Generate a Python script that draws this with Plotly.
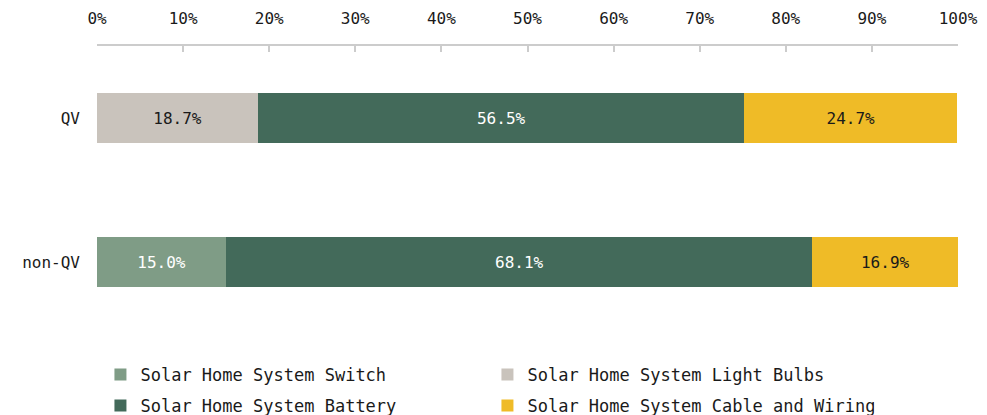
import plotly.graph_objects as go

groups = ["QV", "non-QV"]
series_names = [
    "Solar Home System Switch",
    "Solar Home System Light Bulbs",
    "Solar Home System Battery",
    "Solar Home System Cable and Wiring",
]
switch = [0.0, 15.0]
light_bulbs = [18.7, 0.0]
battery = [56.5, 68.1]
cable = [24.7, 16.9]
x_ticks = [0, 10, 20, 30, 40, 50, 60, 70, 80, 90, 100]

colors = ["#7f9c86", "#c9c3bc", "#436a5a", "#efbb27"]
text_colors = ["#ffffff", "#1a1a1a", "#ffffff", "#1a1a1a"]
legend_ids = ["legend", "legend", "legend2", "legend2"]
FONT = "DejaVu Sans Mono"

fig = go.Figure()
for name, vals, col, tcol, lg in zip(series_names, [switch, light_bulbs, battery, cable],
                                     colors, text_colors, legend_ids):
    fig.add_trace(go.Bar(
        y=groups,
        x=vals,
        name=name,
        orientation="h",
        legend=lg,
        marker=dict(color=col, line=dict(width=0)),
        text=[f"{v:.1f}%" if v > 0 else "" for v in vals],
        textposition="inside",
        insidetextanchor="middle",
        textfont=dict(family=FONT, size=16, color=tcol),
        hoverinfo="skip",
    ))

legend_style = dict(
    orientation="h",
    x=0.004,
    xanchor="left",
    xref="paper",
    yref="container",
    yanchor="middle",
    entrywidth=342,
    itemwidth=30,
    traceorder="normal",
    font=dict(family=FONT, size=17, color="#1a1a1a"),
)

fig.update_layout(
    barmode="stack",
    bargap=0.65,
    width=987,
    height=415,
    margin=dict(l=97, r=29, t=46, b=81),
    plot_bgcolor="white",
    paper_bgcolor="white",
    font=dict(family=FONT, size=16, color="#1a1a1a"),
    uniformtext=dict(minsize=16, mode="show"),
    xaxis=dict(
        side="top",
        range=[0, 100],
        tickvals=x_ticks,
        ticktext=[f"{t}%" for t in x_ticks],
        showgrid=False,
        zeroline=False,
        showline=True,
        linecolor="#cccccc",
        linewidth=2,
        ticks="inside",
        ticklen=6,
        tickcolor="#cccccc",
        tickwidth=2,
        ticklabelstandoff=14,
        tickfont=dict(family=FONT, size=16, color="#1a1a1a"),
        automargin=False,
        fixedrange=True,
    ),
    yaxis=dict(
        categoryorder="array",
        categoryarray=groups[::-1],
        range=[-0.5, 1.5],
        showgrid=False,
        zeroline=False,
        showline=False,
        ticks="",
        ticklabelstandoff=16,
        tickfont=dict(family=FONT, size=16, color="#1a1a1a"),
        automargin=False,
        fixedrange=True,
    ),
    legend=dict(legend_style, y=1 - 375 / 415),
    legend2=dict(legend_style, y=1 - 406 / 415),
    showlegend=True,
)

fig.write_html(
    "out.html",
    config={"displayModeBar": False},
    post_script="document.body.style.margin = '0';",
)
